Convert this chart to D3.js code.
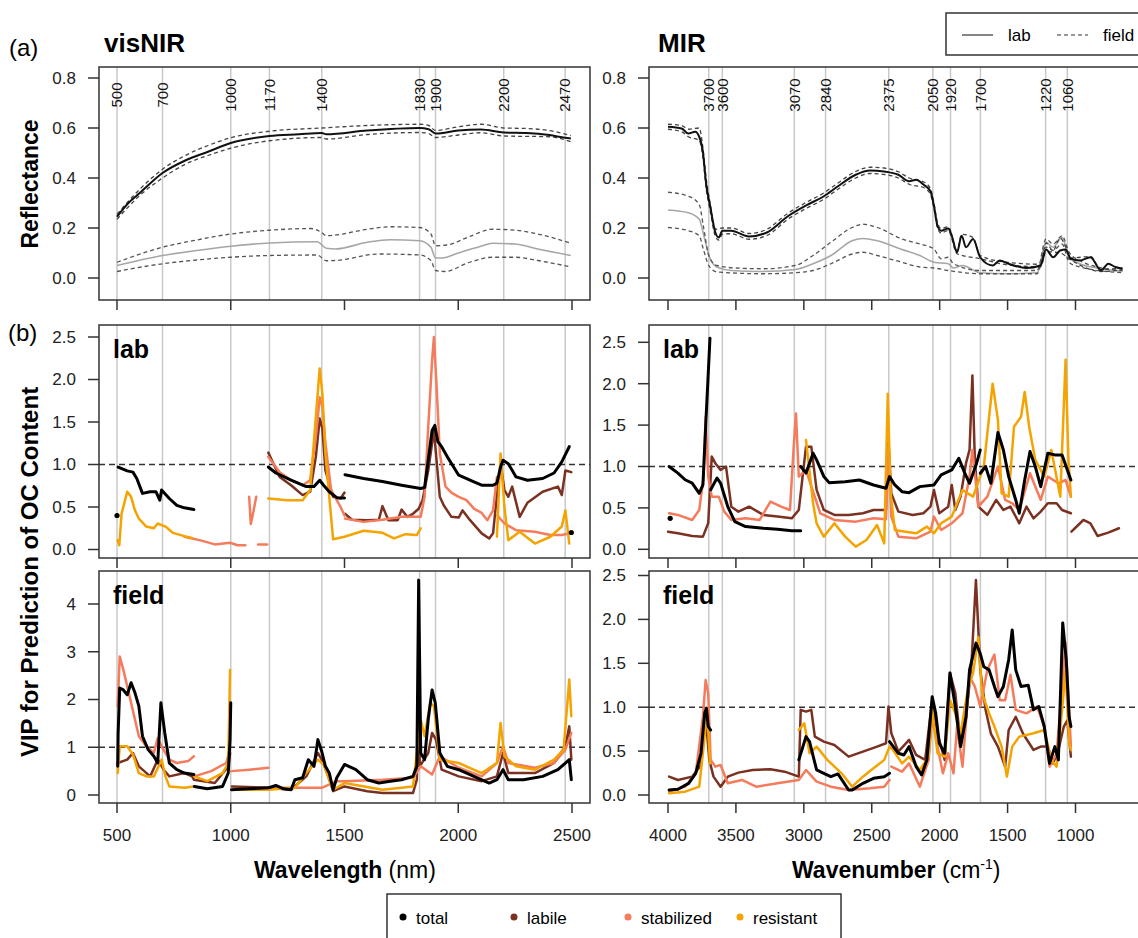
<!DOCTYPE html>
<html>
<head>
<meta charset="utf-8">
<script src="https://cdn.jsdelivr.net/npm/d3@7"></script>
<style>
  body { margin: 0; background: #fff; }
  svg { font-family: "Liberation Sans", Arial, sans-serif; }
</style>
</head>
<body>
<div id="chart"></div>
<script>
// ---- marker wavelengths / wavenumbers ----
const vnirBands = [500, 700, 1000, 1170, 1400, 1830, 1900, 2200, 2470];
const mirBands = [3700, 3600, 3070, 2840, 2375, 2050, 1920, 1700, 1220, 1060];
const vnirTicks = [500, 1000, 1500, 2000, 2500];
const mirTicks = [4000, 3500, 3000, 2500, 2000, 1500, 1000];
const fractions = ["total", "labile", "stabilized", "resistant"];
const fracColors = ["#000000", "#7a3122", "#f47b5c", "#f5a300"];

// ---- (a) reflectance, visNIR ----
const refVnirLab = [[500,0.245],[550,0.30],[600,0.34],[700,0.42],[800,0.47],[900,0.505],[1000,0.54],[1170,0.568],[1300,0.575],[1400,0.58],[1420,0.575],[1600,0.59],[1830,0.60],[1870,0.595],[1900,0.578],[2000,0.59],[2100,0.594],[2200,0.582],[2300,0.58],[2400,0.572],[2470,0.561],[2495,0.558]];
const refVnirLabHi = [[500,0.255],[600,0.355],[700,0.435],[800,0.49],[900,0.53],[1000,0.561],[1170,0.587],[1400,0.60],[1600,0.61],[1830,0.615],[1870,0.61],[1900,0.59],[2000,0.605],[2100,0.615],[2200,0.60],[2300,0.598],[2400,0.59],[2495,0.57]];
const refVnirLabLo = [[500,0.235],[600,0.33],[700,0.40],[800,0.455],[900,0.49],[1000,0.519],[1170,0.549],[1400,0.562],[1420,0.556],[1600,0.574],[1830,0.582],[1870,0.578],[1900,0.562],[2000,0.572],[2100,0.581],[2200,0.568],[2400,0.565],[2495,0.545]];
const refVnirField = [[500,0.05],[700,0.09],[850,0.11],[1000,0.127],[1170,0.14],[1380,0.145],[1420,0.119],[1460,0.116],[1600,0.143],[1700,0.153],[1830,0.149],[1880,0.123],[1900,0.08],[1930,0.08],[2000,0.10],[2100,0.127],[2150,0.139],[2250,0.136],[2350,0.116],[2495,0.09]];
const refVnirFieldHi = [[500,0.063],[700,0.123],[850,0.152],[1000,0.176],[1170,0.191],[1350,0.198],[1400,0.182],[1420,0.169],[1460,0.172],[1600,0.195],[1700,0.205],[1830,0.202],[1880,0.176],[1900,0.129],[1950,0.132],[2050,0.166],[2150,0.195],[2250,0.191],[2350,0.176],[2495,0.139]];
const refVnirFieldLo = [[500,0.026],[700,0.057],[850,0.072],[1000,0.083],[1170,0.09],[1380,0.092],[1420,0.069],[1460,0.07],[1650,0.096],[1830,0.092],[1880,0.07],[1900,0.03],[1940,0.026],[2050,0.063],[2150,0.083],[2250,0.083],[2350,0.07],[2495,0.044]];

// ---- (a) reflectance, MIR ----
const refMirLab = [[4000,0.605],[3900,0.598],[3850,0.578],[3800,0.585],[3770,0.565],[3745,0.512],[3717,0.367],[3690,0.288],[3650,0.18],[3626,0.162],[3600,0.189],[3535,0.189],[3403,0.166],[3272,0.182],[3115,0.248],[2984,0.29],[2853,0.327],[2749,0.367],[2618,0.413],[2513,0.43],[2408,0.426],[2304,0.413],[2225,0.387],[2173,0.393],[2120,0.374],[2068,0.347],[2042,0.288],[2016,0.209],[1990,0.189],[1937,0.198],[1911,0.169],[1872,0.103],[1838,0.169],[1806,0.123],[1754,0.156],[1702,0.083],[1610,0.05],[1558,0.07],[1492,0.057],[1361,0.04],[1257,0.05],[1217,0.114],[1165,0.083],[1113,0.11],[1073,0.114],[1034,0.077],[969,0.07],[890,0.083],[812,0.03],[759,0.057],[707,0.044],[654,0.037]];
const refMirLabHi = [[4000,0.615],[3900,0.61],[3850,0.595],[3770,0.60],[3745,0.53],[3717,0.39],[3690,0.30],[3650,0.195],[3600,0.20],[3535,0.20],[3403,0.178],[3272,0.195],[3115,0.26],[2984,0.302],[2853,0.34],[2749,0.38],[2618,0.426],[2513,0.443],[2408,0.44],[2304,0.425],[2225,0.40],[2120,0.385],[2068,0.358],[2042,0.30],[2016,0.22],[1990,0.198],[1937,0.205],[1872,0.11],[1838,0.175],[1754,0.162],[1702,0.09],[1492,0.062],[1257,0.055],[1217,0.14],[1165,0.11],[1113,0.16],[1073,0.125],[1034,0.08],[890,0.086],[812,0.034],[654,0.04]];
const refMirLabLo = [[4000,0.595],[3900,0.585],[3850,0.565],[3770,0.55],[3745,0.49],[3717,0.35],[3690,0.27],[3650,0.165],[3626,0.152],[3600,0.175],[3535,0.177],[3403,0.155],[3272,0.17],[3115,0.236],[2984,0.278],[2853,0.315],[2749,0.355],[2618,0.40],[2513,0.418],[2408,0.414],[2304,0.40],[2225,0.375],[2120,0.362],[2068,0.335],[2042,0.278],[2016,0.2],[1990,0.18],[1937,0.19],[1872,0.097],[1702,0.077],[1492,0.052],[1257,0.045],[1217,0.105],[1113,0.1],[1034,0.072],[812,0.026],[654,0.033]];
const refMirField = [[4000,0.272],[3850,0.261],[3770,0.235],[3730,0.156],[3690,0.077],[3640,0.044],[3535,0.03],[3325,0.026],[3063,0.034],[2932,0.057],[2800,0.09],[2644,0.149],[2565,0.158],[2460,0.149],[2277,0.114],[2146,0.09],[2042,0.063],[1937,0.057],[1898,0.04],[1832,0.05],[1702,0.021],[1492,0.017],[1283,0.021],[1217,0.143],[1165,0.123],[1099,0.162],[1047,0.083],[969,0.057],[838,0.04],[654,0.026]];
const refMirFieldHi = [[4000,0.343],[3850,0.327],[3770,0.294],[3740,0.209],[3700,0.09],[3640,0.05],[3500,0.04],[3300,0.037],[3063,0.05],[2932,0.09],[2800,0.143],[2644,0.202],[2565,0.215],[2460,0.202],[2277,0.156],[2146,0.136],[2042,0.116],[1990,0.077],[1937,0.083],[1898,0.057],[1700,0.03],[1283,0.03],[1217,0.156],[1165,0.136],[1099,0.169],[1047,0.103],[969,0.07],[838,0.044],[654,0.03]];
const refMirFieldLo = [[4000,0.202],[3850,0.189],[3770,0.169],[3740,0.116],[3700,0.05],[3640,0.024],[3300,0.017],[3063,0.021],[2932,0.03],[2800,0.057],[2644,0.096],[2565,0.103],[2460,0.09],[2277,0.063],[2146,0.044],[2042,0.04],[1937,0.03],[1700,0.017],[1283,0.017],[1217,0.123],[1165,0.11],[1099,0.136],[1047,0.063],[969,0.044],[654,0.021]];

// ---- (b) VIP, visNIR, lab ----  (null = gap)
const vipVnirLabTotal = [[500,0.40],[500,null],[505,0.97],[545,0.925],[570,0.91],[587,0.835],[612,0.66],[646,0.68],[671,0.68],[688,0.58],[696,0.70],[730,0.60],[763,0.52],[796,0.49],[838,0.47],[840,null],[1165,0.97],[1198,0.90],[1265,0.815],[1332,0.74],[1366,0.74],[1391,0.815],[1408,0.756],[1433,0.68],[1466,0.61],[1500,0.607],[1500,null],[1502,0.88],[1584,0.835],[1667,0.80],[1751,0.756],[1835,0.717],[1852,0.73],[1868,1.05],[1885,1.40],[1897,1.46],[1910,1.27],[1927,1.21],[1952,1.09],[2002,0.874],[2069,0.795],[2103,0.756],[2153,0.756],[2170,0.78],[2186,0.97],[2197,1.05],[2220,1.01],[2254,0.854],[2304,0.815],[2371,0.835],[2421,0.90],[2455,1.03],[2488,1.21],[2490,null],[2497,0.20]];
const vipVnirLabLabile = [[1165,1.14],[1215,0.854],[1265,0.756],[1316,0.64],[1349,0.68],[1374,1.09],[1391,1.54],[1403,1.42],[1416,0.93],[1450,0.62],[1483,0.60],[1500,0.67],[1500,null],[1502,0.42],[1533,0.35],[1600,0.345],[1651,0.35],[1667,0.51],[1693,0.345],[1734,0.345],[1751,0.47],[1776,0.384],[1801,0.42],[1826,0.48],[1843,0.58],[1868,0.93],[1893,1.40],[1919,0.62],[1936,0.52],[1970,0.384],[2002,0.376],[2019,0.46],[2052,0.345],[2103,0.19],[2136,0.13],[2153,0.19],[2170,0.64],[2186,1.01],[2203,0.70],[2220,0.62],[2237,0.74],[2270,0.384],[2304,0.55],[2371,0.68],[2438,0.74],[2455,0.64],[2471,0.93],[2497,0.91]];
const vipVnirLabStab = [[796,0.15],[830,0.13],[863,0.11],[930,0.06],[997,0.08],[1030,0.05],[1064,0.05],[1064,null],[1081,0.62],[1088,0.30],[1100,0.45],[1112,0.62],[1112,null],[1120,0.06],[1160,0.06],[1160,null],[1165,1.09],[1215,0.91],[1265,0.815],[1316,0.756],[1349,0.815],[1374,1.32],[1391,1.79],[1403,1.68],[1416,1.25],[1441,0.70],[1483,0.50],[1500,0.40],[1500,null],[1502,0.364],[1584,0.325],[1667,0.35],[1751,0.384],[1835,0.384],[1852,0.62],[1868,1.44],[1885,2.22],[1893,2.50],[1905,1.91],[1919,1.13],[1944,0.74],[1970,0.67],[2002,0.62],[2036,0.58],[2069,0.48],[2103,0.43],[2128,0.345],[2153,0.46],[2170,0.854],[2170,null],[2172,0.40],[2203,0.306],[2254,0.227],[2337,0.208],[2405,0.17],[2455,0.17],[2488,0.19]];
const vipVnirLabRes = [[503,0.11],[510,0.05],[520,0.42],[545,0.68],[562,0.62],[579,0.46],[596,0.364],[629,0.27],[662,0.25],[679,0.306],[713,0.27],[746,0.196],[796,0.157],[830,0.137],[830,null],[1165,0.60],[1248,0.58],[1316,0.58],[1349,0.70],[1374,1.56],[1391,2.13],[1403,1.83],[1416,1.13],[1433,0.62],[1450,0.12],[1500,0.15],[1584,0.22],[1667,0.196],[1718,0.13],[1768,0.18],[1818,0.17],[1835,0.25],[1835,null],[2170,0.15],[2186,1.13],[2203,0.50],[2220,0.11],[2270,0.21],[2337,0.07],[2405,0.15],[2455,0.27],[2471,0.46],[2488,0.07]];

// ---- (b) VIP, MIR, lab ----
const vipMirLabTotal = [[3984,0.374],[3984,null],[3992,1.0],[3927,0.92],[3874,0.84],[3822,0.80],[3770,0.676],[3743,0.777],[3717,1.68],[3691,2.55],[3691,null],[3686,0.72],[3639,0.86],[3613,0.80],[3560,0.515],[3508,0.334],[3429,0.274],[3298,0.254],[3194,0.242],[3089,0.225],[3023,0.225],[3023,null],[3023,1.0],[2984,0.92],[2932,1.16],[2906,1.08],[2853,0.88],[2814,0.805],[2696,0.817],[2591,0.837],[2487,0.777],[2395,0.737],[2369,0.878],[2330,0.777],[2277,0.696],[2225,0.684],[2146,0.757],[2042,0.777],[1989,0.898],[1911,0.958],[1859,1.10],[1820,0.938],[1780,0.797],[1728,1.04],[1701,1.20],[1701,null],[1701,0.918],[1662,1.0],[1623,0.797],[1571,1.41],[1531,1.20],[1492,0.878],[1440,0.596],[1414,0.435],[1374,0.837],[1335,1.18],[1296,1.0],[1256,0.757],[1204,1.16],[1152,1.14],[1099,1.14],[1034,0.837]];
const vipMirLabLabile = [[4000,0.213],[3927,0.193],[3822,0.161],[3743,0.153],[3704,0.314],[3678,1.12],[3652,1.04],[3613,0.958],[3573,1.0],[3534,0.515],[3482,0.455],[3403,0.515],[3298,0.415],[3194,0.395],[3089,0.374],[3037,0.475],[2984,1.24],[2945,1.24],[2906,0.717],[2853,0.475],[2775,0.415],[2670,0.415],[2565,0.435],[2487,0.475],[2395,0.475],[2382,1.42],[2356,0.676],[2304,0.455],[2199,0.415],[2120,0.435],[2068,0.515],[2042,0.717],[2003,0.435],[1937,0.515],[1911,0.777],[1885,0.475],[1846,0.636],[1806,1.04],[1780,1.20],[1759,2.10],[1741,1.08],[1715,0.515],[1649,0.415],[1584,0.596],[1531,0.475],[1479,0.515],[1414,0.314],[1361,0.515],[1309,0.374],[1256,0.455],[1204,0.556],[1139,0.556],[1099,0.475],[1034,0.435],[1034,null],[1030,0.213],[942,0.354],[890,0.314],[838,0.161],[759,0.201],[680,0.254]];
const vipMirLabStab = [[3992,0.435],[3927,0.415],[3822,0.354],[3770,0.475],[3738,0.878],[3723,1.60],[3704,0.878],[3678,0.636],[3626,0.636],[3586,0.455],[3534,0.354],[3429,0.374],[3325,0.354],[3246,0.576],[3167,0.515],[3102,0.475],[3076,1.20],[3058,1.64],[3037,0.878],[2984,0.958],[2932,0.696],[2879,0.435],[2775,0.354],[2618,0.334],[2487,0.374],[2395,0.362],[2377,1.24],[2356,0.395],[2304,0.153],[2173,0.133],[2068,0.213],[2042,0.395],[1989,0.233],[1911,0.314],[1832,0.435],[1780,0.878],[1759,1.20],[1715,0.515],[1649,0.636],[1571,1.0],[1518,0.596],[1466,0.556],[1414,0.475],[1335,0.918],[1256,0.596],[1204,0.878],[1125,0.797],[1073,0.837],[1034,0.636]];
const vipMirLabRes = [[2984,1.32],[2932,0.556],[2906,0.314],[2853,0.153],[2775,0.314],[2696,0.153],[2618,0.032],[2539,0.113],[2461,0.294],[2408,0.072],[2382,1.88],[2361,0.676],[2330,0.233],[2251,0.213],[2173,0.193],[2094,0.274],[2042,0.193],[1989,0.314],[1911,0.395],[1832,0.717],[1754,0.636],[1675,1.0],[1610,2.0],[1571,1.56],[1544,0.676],[1492,0.636],[1453,1.48],[1401,1.60],[1374,1.90],[1341,1.48],[1296,1.08],[1230,0.878],[1178,1.20],[1112,0.636],[1073,2.29],[1052,1.08],[1034,0.636]];

// ---- (b) VIP, visNIR, field ----
const vipVnirFieldTotal = [[503,0.60],[505,1.30],[512,2.24],[528,2.2],[545,2.10],[562,2.35],[579,2.14],[596,1.86],[612,1.23],[637,0.95],[662,0.81],[679,0.67],[693,1.93],[710,1.30],[730,0.67],[763,0.53],[796,0.46],[838,0.43],[838,null],[840,0.18],[897,0.13],[964,0.18],[989,0.46],[997,1.16],[1000,1.93],[1000,null],[1003,0.11],[1081,0.13],[1165,0.15],[1198,0.20],[1232,0.13],[1265,0.11],[1282,0.32],[1316,0.36],[1341,0.74],[1366,0.60],[1383,1.16],[1400,0.91],[1416,0.60],[1433,0.46],[1450,0.11],[1466,0.36],[1500,0.64],[1550,0.53],[1600,0.32],[1651,0.25],[1701,0.29],[1751,0.32],[1801,0.39],[1818,0.60],[1826,4.5],[1835,0.88],[1852,0.74],[1868,1.58],[1885,2.20],[1899,1.93],[1919,0.88],[1952,0.60],[2002,0.53],[2069,0.39],[2136,0.25],[2170,0.32],[2197,0.53],[2220,0.32],[2287,0.32],[2371,0.39],[2438,0.53],[2471,0.67],[2488,0.74],[2497,0.32]];
const vipVnirFieldLabile = [[503,0.67],[545,0.74],[570,0.88],[596,0.60],[646,0.39],[679,0.74],[705,0.53],[730,0.39],[796,0.46],[830,0.39],[838,0.32],[930,0.25],[989,0.60],[997,0.88],[997,null],[1005,0.18],[1165,0.15],[1265,0.11],[1332,0.39],[1383,0.88],[1408,0.67],[1433,0.32],[1450,0.08],[1500,0.18],[1600,0.08],[1667,0.04],[1801,0.04],[1818,0.32],[1826,2.28],[1831,0.60],[1868,0.88],[1885,1.30],[1902,1.16],[1927,0.53],[2002,0.39],[2103,0.29],[2170,0.39],[2197,0.88],[2220,0.46],[2337,0.46],[2421,0.67],[2471,1.02],[2488,1.44],[2497,0.74]];
const vipVnirFieldStab = [[503,1.86],[512,2.90],[528,2.62],[562,1.93],[596,1.23],[629,1.02],[662,0.88],[679,1.19],[696,1.02],[730,0.74],[763,0.67],[813,0.71],[838,0.81],[838,null],[840,0.39],[914,0.50],[980,0.67],[997,0.95],[1000,null],[1003,0.50],[1081,0.53],[1165,0.57],[1165,null],[1198,0.15],[1400,0.15],[1466,0.29],[1500,0.29],[1667,0.32],[1801,0.36],[1835,0.60],[1885,0.43],[1919,0.81],[2002,0.57],[2103,0.39],[2170,0.67],[2197,1.02],[2220,0.67],[2337,0.57],[2421,0.67],[2471,0.95],[2497,1.30]];
const vipVnirFieldRes = [[503,0.46],[512,1.02],[545,1.02],[570,0.85],[596,0.46],[629,0.39],[662,0.39],[696,0.74],[713,0.39],[730,0.18],[796,0.15],[838,0.18],[838,null],[840,0.39],[897,0.29],[964,0.46],[989,0.67],[997,2.62],[997,null],[1005,0.11],[1165,0.11],[1282,0.15],[1332,0.46],[1383,0.74],[1408,0.64],[1450,0.11],[1500,0.25],[1667,0.11],[1801,0.18],[1818,0.88],[1835,1.58],[1852,1.23],[1877,1.93],[1893,1.86],[1919,0.74],[2002,0.67],[2103,0.46],[2170,0.67],[2186,1.51],[2203,0.81],[2254,0.60],[2337,0.53],[2421,0.74],[2463,0.95],[2488,2.42],[2497,1.65]];

// ---- (b) VIP, MIR, field ----
const vipMirFieldTotal = [[3992,0.057],[3927,0.065],[3848,0.133],[3796,0.247],[3757,0.475],[3730,0.93],[3717,0.99],[3704,0.78],[3686,0.74],[3686,null],[3037,0.40],[2984,0.665],[2958,0.608],[2906,0.285],[2853,0.247],[2801,0.209],[2749,0.24],[2670,0.057],[2644,0.057],[2565,0.133],[2487,0.19],[2408,0.209],[2369,0.247],[2369,null],[2369,0.608],[2304,0.475],[2264,0.456],[2225,0.551],[2173,0.323],[2133,0.228],[2094,0.40],[2055,1.12],[2029,0.93],[2003,0.589],[1963,0.475],[1924,1.39],[1885,1.007],[1846,0.551],[1806,0.89],[1780,1.425],[1733,1.73],[1701,1.61],[1675,1.46],[1636,1.425],[1597,1.235],[1571,1.12],[1531,1.235],[1492,1.54],[1466,1.88],[1440,1.425],[1401,1.235],[1348,1.25],[1309,0.97],[1270,1.007],[1230,0.78],[1191,0.36],[1152,0.551],[1126,0.40],[1094,1.96],[1068,1.54],[1047,0.89],[1034,0.78]];
const vipMirFieldLabile = [[3992,0.209],[3927,0.171],[3822,0.209],[3757,0.342],[3730,0.78],[3712,0.70],[3696,0.40],[3665,0.209],[3613,0.095],[3560,0.209],[3482,0.255],[3377,0.285],[3246,0.293],[3141,0.266],[3037,0.209],[3023,0.97],[2984,0.95],[2945,0.97],[2919,0.665],[2853,0.608],[2775,0.57],[2670,0.437],[2565,0.494],[2461,0.551],[2395,0.589],[2377,1.007],[2356,0.703],[2304,0.494],[2225,0.627],[2173,0.456],[2107,0.40],[2055,1.08],[2016,0.70],[1963,0.40],[1924,1.39],[1885,1.16],[1846,0.589],[1806,0.89],[1767,1.46],[1733,2.45],[1701,1.425],[1662,0.97],[1623,0.70],[1571,0.551],[1518,0.323],[1492,0.74],[1440,0.89],[1387,0.70],[1309,0.513],[1256,0.551],[1204,0.551],[1165,0.36],[1126,0.513],[1086,0.78],[1060,0.85],[1034,0.437]];
const vipMirFieldStab = [[3992,0.038],[3874,0.095],[3796,0.247],[3743,0.89],[3723,1.31],[3704,1.16],[3686,0.40],[3652,0.323],[3613,0.342],[3560,0.133],[3456,0.171],[3351,0.095],[3194,0.133],[3037,0.171],[2984,0.285],[2906,0.152],[2801,0.095],[2670,0.057],[2513,0.076],[2408,0.095],[2369,0.171],[2369,null],[2356,0.323],[2277,0.266],[2225,0.36],[2146,0.095],[2081,0.40],[2055,0.89],[2016,0.551],[1976,0.247],[1937,0.475],[1898,0.247],[1872,0.78],[1832,0.323],[1780,1.35],[1741,1.235],[1701,1.007],[1649,1.425],[1597,1.60],[1558,1.08],[1518,1.08],[1479,1.37],[1440,0.97],[1361,0.93],[1283,1.007],[1230,0.78],[1191,0.323],[1139,0.475],[1099,1.235],[1073,1.73],[1047,0.97],[1034,0.551]];
const vipMirFieldRes = [[3992,0.019],[3874,0.038],[3770,0.095],[3738,0.551],[3712,0.97],[3691,0.36],[3691,null],[3037,0.74],[2997,0.817],[2958,0.475],[2906,0.551],[2827,0.40],[2722,0.247],[2644,0.095],[2565,0.209],[2487,0.304],[2408,0.40],[2369,0.551],[2343,0.513],[2277,0.36],[2225,0.437],[2146,0.285],[2081,0.437],[2055,0.97],[2016,0.475],[1963,0.437],[1924,1.08],[1885,0.93],[1846,0.70],[1793,1.20],[1754,1.39],[1715,1.80],[1688,1.16],[1636,0.93],[1597,0.78],[1544,0.551],[1505,0.209],[1466,0.551],[1414,0.665],[1309,0.703],[1230,0.74],[1178,0.40],[1139,0.323],[1099,0.97],[1073,1.425],[1047,0.589],[1034,0.513]];

// ---------------------------------------------------------------
const width = 1138, height = 938;
const svg = d3.select("#chart").append("svg")
    .attr("width", width).attr("height", height);

const cols = {
    vnir: { x0: 99, x1: 590, x: d3.scaleLinear().domain([500, 2500]).range([117, 572]), bands: vnirBands, ticks: vnirTicks },
    mir: { x0: 649, x1: 1152, x: d3.scaleLinear().domain([4000, 1000]).range([668, 1075.5]), bands: mirBands, ticks: mirTicks }
};
const rows = [
    { y0: 67, y1: 300 },
    { y0: 325, y1: 558 },
    { y0: 571, y1: 803 }
];

const panels = [
    { col: "vnir", row: 0, y: d3.scaleLinear().domain([0, 0.8]).range([278, 78]), yt: [0, 0.2, 0.4, 0.6, 0.8], fmt: d3.format(".1f"), kind: "ref",
      sets: [refVnirLab, refVnirLabHi, refVnirLabLo, refVnirField, refVnirFieldHi, refVnirFieldLo] },
    { col: "mir", row: 0, y: d3.scaleLinear().domain([0, 0.8]).range([278, 78]), yt: [0, 0.2, 0.4, 0.6, 0.8], fmt: d3.format(".1f"), kind: "ref",
      sets: [refMirLab, refMirLabHi, refMirLabLo, refMirField, refMirFieldHi, refMirFieldLo] },
    { col: "vnir", row: 1, y: d3.scaleLinear().domain([0, 2.5]).range([549.5, 337]), yt: [0, 0.5, 1, 1.5, 2, 2.5], fmt: d3.format(".1f"), kind: "vip", label: "lab",
      sets: [vipVnirLabTotal, vipVnirLabLabile, vipVnirLabStab, vipVnirLabRes] },
    { col: "mir", row: 1, y: d3.scaleLinear().domain([0, 2.5]).range([549.3, 342.3]), yt: [0, 0.5, 1, 1.5, 2, 2.5], fmt: d3.format(".1f"), kind: "vip", label: "lab",
      sets: [vipMirLabTotal, vipMirLabLabile, vipMirLabStab, vipMirLabRes] },
    { col: "vnir", row: 2, y: d3.scaleLinear().domain([0, 4]).range([795, 604]), yt: [0, 1, 2, 3, 4], fmt: d3.format("d"), kind: "vip", label: "field",
      sets: [vipVnirFieldTotal, vipVnirFieldLabile, vipVnirFieldStab, vipVnirFieldRes] },
    { col: "mir", row: 2, y: d3.scaleLinear().domain([0, 2.5]).range([795, 575.5]), yt: [0, 0.5, 1, 1.5, 2, 2.5], fmt: d3.format(".1f"), kind: "vip", label: "field",
      sets: [vipMirFieldTotal, vipMirFieldLabile, vipMirFieldStab, vipMirFieldRes] }
];

// split a series on null values into drawable segments
function segments(data) {
    const out = [];
    let cur = [];
    data.forEach(d => {
        if (d[1] === null) { if (cur.length) out.push(cur); cur = []; }
        else cur.push(d);
    });
    if (cur.length) out.push(cur);
    return out;
}

const refStyles = [
    { stroke: "#111", width: 2, dash: null },
    { stroke: "#444", width: 1.3, dash: "4,3" },
    { stroke: "#444", width: 1.3, dash: "4,3" },
    { stroke: "#a6a6a6", width: 1.6, dash: null },
    { stroke: "#555", width: 1.3, dash: "4,3" },
    { stroke: "#555", width: 1.3, dash: "4,3" }
];

panels.forEach((p, i) => {
    const c = cols[p.col], r = rows[p.row];
    const x = c.x, y = p.y;
    const g = svg.append("g");

    const clipId = "clip" + i;
    svg.append("clipPath").attr("id", clipId)
        .append("rect").attr("x", c.x0).attr("y", r.y0).attr("width", c.x1 - c.x0).attr("height", r.y1 - r.y0);

    // band marker lines
    g.selectAll(".band").data(c.bands).enter().append("line")
        .attr("x1", d => x(d)).attr("x2", d => x(d))
        .attr("y1", r.y0).attr("y2", r.y1)
        .attr("stroke", "#c9c9c9").attr("stroke-width", 1.5);

    if (p.kind === "ref") {
        g.selectAll(".blab").data(c.bands).enter().append("text")
            .attr("transform", d => `translate(${x(d)},95) rotate(-90)`)
            .attr("text-anchor", "middle").attr("dy", "0.35em")
            .attr("font-size", 15).attr("fill", "#111")
            .text(d => d);
    }

    const plot = g.append("g").attr("clip-path", `url(#${clipId})`);

    if (p.kind === "vip") {
        plot.append("line")
            .attr("x1", c.x0).attr("x2", c.x1)
            .attr("y1", y(1)).attr("y2", y(1))
            .attr("stroke", "#333").attr("stroke-width", 1.4).attr("stroke-dasharray", "6,4");
    }

    const line = d3.line().x(d => x(d[0])).y(d => y(d[1]));

    if (p.kind === "ref") {
        const smooth = d3.line().x(d => x(d[0])).y(d => y(d[1])).curve(d3.curveMonotoneX);
        // draw field group first, then lab on top
        [3, 4, 5, 1, 2, 0].forEach(k => {
            const s = refStyles[k];
            plot.append("path")
                .attr("d", smooth(p.sets[k]))
                .attr("fill", "none")
                .attr("stroke", s.stroke)
                .attr("stroke-width", s.width)
                .attr("stroke-dasharray", s.dash);
        });
    } else {
        // labile, stabilized, resistant, then total on top
        [1, 2, 3, 0].forEach(k => {
            segments(p.sets[k]).forEach(seg => {
                if (seg.length === 1) {
                    plot.append("circle")
                        .attr("cx", x(seg[0][0])).attr("cy", y(seg[0][1]))
                        .attr("r", 2.6).attr("fill", fracColors[k]);
                } else {
                    plot.append("path")
                        .attr("d", line(seg))
                        .attr("fill", "none")
                        .attr("stroke", fracColors[k])
                        .attr("stroke-width", k === 0 ? 3 : 2.5)
                        .attr("stroke-linejoin", "round")
                        .attr("stroke-linecap", "round");
                }
            });
        });
        g.append("text")
            .attr("x", c.x0 + 14).attr("y", r.y0 + 33)
            .attr("font-size", 25).attr("font-weight", "bold").attr("fill", "#000")
            .text(p.label);
    }

    // box
    g.append("rect")
        .attr("x", c.x0).attr("y", r.y0)
        .attr("width", c.x1 - c.x0).attr("height", r.y1 - r.y0)
        .attr("fill", "none").attr("stroke", "#333").attr("stroke-width", 1.5);

    // y axis
    const yAxis = g.append("g");
    yAxis.selectAll("line").data(p.yt).enter().append("line")
        .attr("x1", c.x0 - 11).attr("x2", c.x0)
        .attr("y1", d => y(d)).attr("y2", d => y(d))
        .attr("stroke", "#333").attr("stroke-width", 1.5);
    yAxis.selectAll("text").data(p.yt).enter().append("text")
        .attr("x", c.x0 - 23).attr("y", d => y(d)).attr("dy", "0.35em")
        .attr("text-anchor", "end").attr("font-size", 17).attr("fill", "#222")
        .text(d => p.fmt(d));

    // x axis ticks
    const xAxis = g.append("g");
    xAxis.selectAll("line").data(c.ticks).enter().append("line")
        .attr("x1", d => x(d)).attr("x2", d => x(d))
        .attr("y1", r.y1).attr("y2", r.y1 + 10)
        .attr("stroke", "#333").attr("stroke-width", 1.5);
    if (p.row === 2) {
        xAxis.selectAll("text").data(c.ticks).enter().append("text")
            .attr("x", d => x(d)).attr("y", 835).attr("dy", "0.35em")
            .attr("text-anchor", "middle").attr("font-size", 17).attr("fill", "#222")
            .text(d => d);
    }
});

// titles and panel letters
svg.append("text").attr("x", 9).attr("y", 56).attr("font-size", 24).text("(a)");
svg.append("text").attr("x", 8).attr("y", 341).attr("font-size", 24).text("(b)");
svg.append("text").attr("x", 104).attr("y", 52).attr("font-size", 26).attr("font-weight", "bold").text("visNIR");
svg.append("text").attr("x", 658).attr("y", 52).attr("font-size", 26).attr("font-weight", "bold").text("MIR");

svg.append("text")
    .attr("transform", "translate(38,184) rotate(-90)")
    .attr("text-anchor", "middle").attr("font-size", 23).attr("font-weight", "bold")
    .text("Reflectance");
svg.append("text")
    .attr("transform", "translate(38,572) rotate(-90)")
    .attr("text-anchor", "middle").attr("font-size", 24).attr("font-weight", "bold")
    .text("VIP for Prediction of OC Content");

const xl = svg.append("text").attr("x", 254).attr("y", 878).attr("font-size", 23);
xl.append("tspan").attr("font-weight", "bold").text("Wavelength");
xl.append("tspan").text(" (nm)");
const xr = svg.append("text").attr("x", 792).attr("y", 878).attr("font-size", 23);
xr.append("tspan").attr("font-weight", "bold").text("Wavenumber");
xr.append("tspan").text(" (cm");
xr.append("tspan").attr("font-size", 14).attr("dy", -9).text("-1");
xr.append("tspan").attr("dy", 9).text(")");

// top legend (lab / field)
const lg = svg.append("g");
lg.append("rect").attr("x", 946).attr("y", 13).attr("width", 200).attr("height", 42)
    .attr("fill", "#fff").attr("stroke", "#333").attr("stroke-width", 1.5);
lg.append("line").attr("x1", 962).attr("x2", 993).attr("y1", 35).attr("y2", 35)
    .attr("stroke", "#333").attr("stroke-width", 1.2);
lg.append("text").attr("x", 1008).attr("y", 35).attr("dy", "0.35em").attr("font-size", 17).text("lab");
lg.append("line").attr("x1", 1057).attr("x2", 1088).attr("y1", 35).attr("y2", 35)
    .attr("stroke", "#333").attr("stroke-width", 1.2).attr("stroke-dasharray", "4,3");
lg.append("text").attr("x", 1103).attr("y", 35).attr("dy", "0.35em").attr("font-size", 17).text("field");

// bottom legend (fractions)
const bl = svg.append("g");
bl.append("rect").attr("x", 387).attr("y", 894).attr("width", 454).attr("height", 60)
    .attr("fill", "#fff").attr("stroke", "#333").attr("stroke-width", 1.5);
const legX = [403, 514, 628, 740];
fractions.forEach((f, i) => {
    bl.append("circle").attr("cx", legX[i]).attr("cy", 917).attr("r", 3.5).attr("fill", fracColors[i]);
    bl.append("text").attr("x", legX[i] + 13).attr("y", 918).attr("dy", "0.35em")
        .attr("font-size", 17).text(f);
});
</script>
</body>
</html>
